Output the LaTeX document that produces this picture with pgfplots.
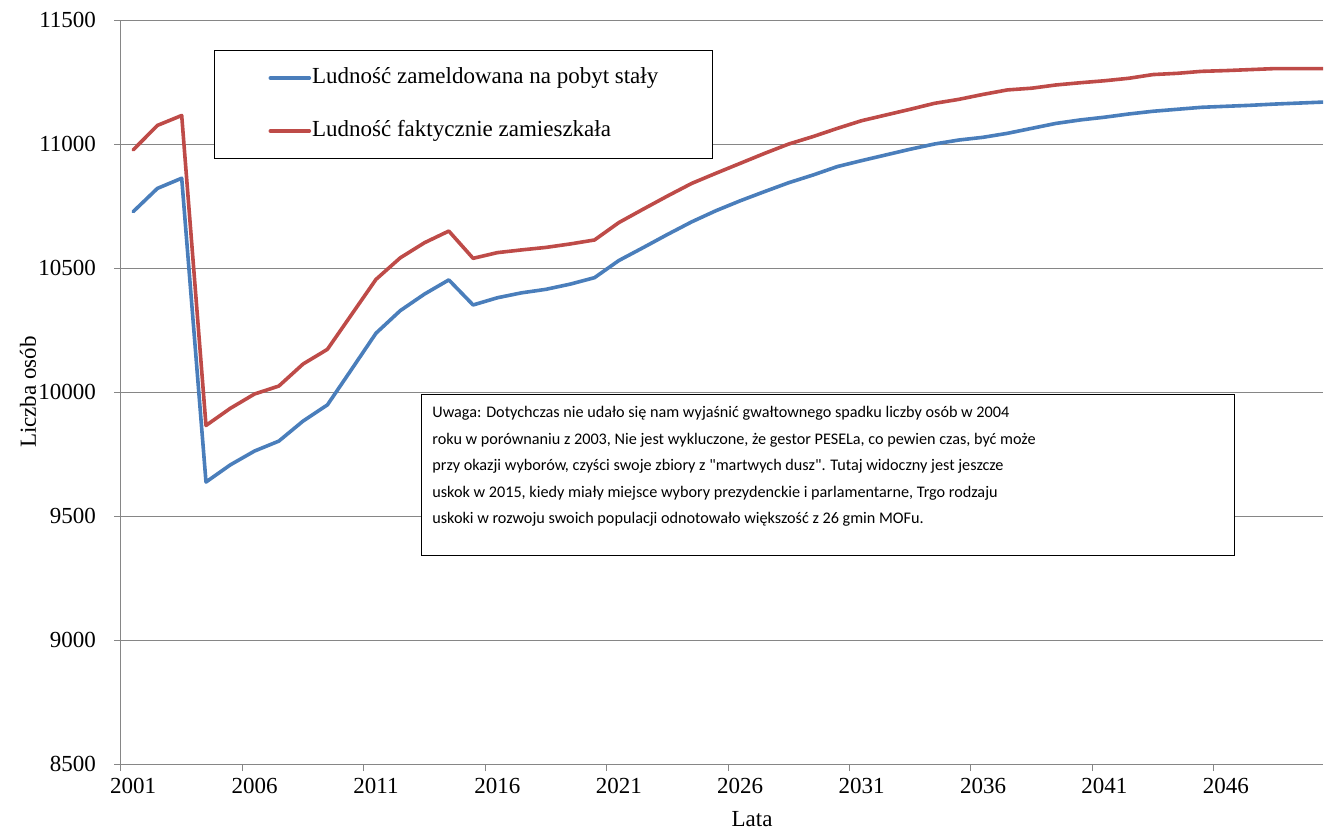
\documentclass[border=0pt]{standalone}
\usepackage{fontspec}
\setmainfont{Liberation Serif}
\newfontfamily\notefont{Carlito}
\usepackage{pgfplots}
\usepackage{pgfplotstable}
\pgfplotsset{compat=1.18}

\definecolor{xlblue}{RGB}{74,126,187}
\definecolor{xlred}{RGB}{190,75,72}
\definecolor{gridgray}{RGB}{134,134,134}

% rok, ludnosc zameldowana, ludnosc faktycznie zamieszkala
\pgfplotstableread{
year zam fakt
2001 10727 10976
2002 10821 11075
2003 10862 11115
2004 9637 9865
2005 9706 9934
2006 9762 9992
2007 9802 10024
2008 9883 10113
2009 9948 10172
2010 10092 10313
2011 10237 10454
2012 10328 10541
2013 10395 10602
2014 10452 10649
2015 10351 10539
2016 10380 10562
2017 10400 10573
2018 10414 10583
2019 10435 10597
2020 10461 10613
2021 10530 10683
2022 10582 10737
2023 10635 10790
2024 10686 10841
2025 10731 10882
2026 10771 10922
2027 10808 10962
2028 10844 11000
2029 10875 11030
2030 10909 11063
2031 10933 11094
2032 10956 11117
2033 10979 11140
2034 11000 11164
2035 11016 11180
2036 11027 11200
2037 11043 11218
2038 11063 11225
2039 11083 11238
2040 11097 11247
2041 11108 11255
2042 11121 11265
2043 11132 11280
2044 11140 11285
2045 11148 11293
2046 11152 11296
2047 11156 11300
2048 11161 11304
2049 11165 11304
2050 11169 11304
}\data

\begin{document}
\begin{tikzpicture}[font=\fontsize{11.5}{14}\selectfont]
\useasboundingbox (-60.5pt,-33.5pt) rectangle (601.5pt,382pt);
\begin{axis}[
    at={(0pt,0pt)}, anchor=south west,
    scale only axis, width=601pt, height=372pt,
    xmin=2000.5, xmax=2050, ymin=8500, ymax=11500,
    axis x line*=bottom, axis y line*=left,
    axis line style={gridgray, line width=0.5pt},
    xtick={2000.5,2005.5,...,2045.5},
    xticklabels={2001,2006,2011,2016,2021,2026,2031,2036,2041,2046},
    x tick label style={xshift=6.07pt},
    ytick={8500,9000,...,11500},
    y tick label style={xshift=-5.5pt},
    scaled y ticks=false,
    ymajorgrids, grid style={gridgray, line width=0.5pt},
    tick align=outside, major tick length=3.5pt,
    tick style={gridgray, line width=0.5pt},
    /pgf/number format/1000 sep={},
    /pgf/number format/assume math mode=true,
    xlabel={Lata}, ylabel={Liczba osób},
    xlabel style={at={(axis description cs:0.525,-0.074)}, anchor=center},
    ylabel style={at={(axis description cs:-0.0774,0.5)}, anchor=center},
    legend style={at={(axis description cs:0.0774,0.9597)}, anchor=north west,
        draw=black, line width=0.5pt, fill=white,
        inner xsep=27pt, inner ysep=8.5pt, row sep=16pt, column sep=0.5pt,
        nodes={inner sep=0pt, text height=8pt, text depth=2.5pt}},
    legend cell align=left,
    legend image code/.code={\draw[#1] (0pt,0pt) -- (19.5pt,0pt);},
    every axis plot/.append style={line width=1.8pt, line join=round, line cap=round, mark=none},
]
\addplot[xlblue] table[x=year, y=zam] {\data};
\addlegendentry{Ludność zameldowana na pobyt stały}
\addplot[xlred] table[x=year, y=fakt] {\data};
\addlegendentry{Ludność faktycznie zamieszkała}
\end{axis}
\draw[black, line width=0.5pt, fill=white] (150pt,104pt) rectangle (556.5pt,184.5pt);
\node[anchor=north west, inner sep=0pt, align=left,
      font=\notefont\fontsize{8.1}{13.25}\selectfont] at (155.5pt,179pt) {%
Uwaga: Dotychczas nie udało się nam wyjaśnić gwałtownego spadku liczby osób w 2004\\
roku w porównaniu z 2003, Nie jest wykluczone, że gestor PESELa, co pewien czas, być może\\
przy okazji wyborów, czyści swoje zbiory z "martwych dusz". Tutaj widoczny jest jeszcze\\
uskok w 2015, kiedy miały miejsce wybory prezydenckie i parlamentarne, Trgo rodzaju\\
uskoki w rozwoju swoich populacji odnotowało większość z 26 gmin MOFu.};
\end{tikzpicture}
\end{document}
